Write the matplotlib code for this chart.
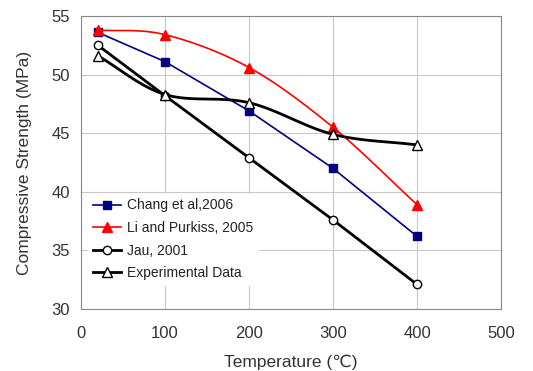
import numpy as np
import matplotlib
matplotlib.use('Agg')
import matplotlib.pyplot as plt

plt.rcParams['font.family'] = ['Liberation Sans', 'DejaVu Sans']

temps = [20, 100, 200, 300, 400]
chang = [53.6, 51.1, 46.9, 42.0, 36.2]
li_purkiss = [53.8, 53.4, 50.6, 45.5, 38.9]
jau = [52.5, 48.2, 42.9, 37.6, 32.1]
experimental = [51.6, 48.3, 47.6, 44.9, 44.0]


def smooth(x, y, n=30):
    # Catmull-Rom through the points, like Excel's "smoothed line"
    x = np.asarray(x, float)
    y = np.asarray(y, float)
    px = np.concatenate([[2 * x[0] - x[1]], x, [2 * x[-1] - x[-2]]])
    py = np.concatenate([[2 * y[0] - y[1]], y, [2 * y[-1] - y[-2]]])
    xs, ys = [], []
    for i in range(1, len(px) - 2):
        t = np.linspace(0, 1, n)
        for arr, out in ((px, xs), (py, ys)):
            p0, p1, p2, p3 = arr[i - 1], arr[i], arr[i + 1], arr[i + 2]
            out.extend(0.5 * ((2 * p1) + (-p0 + p2) * t
                              + (2 * p0 - 5 * p1 + 4 * p2 - p3) * t ** 2
                              + (-p0 + 3 * p1 - 3 * p2 + p3) * t ** 3))
    return xs, ys


fig = plt.figure(figsize=(5.33, 3.71), dpi=100)
ax = fig.add_axes([0.152, 0.167, 0.788, 0.79])

ax.plot(temps, chang, color='#000080', lw=1.2)
ax.plot(temps, chang, 's', color='#000080', ms=6)
sx, sy = smooth(temps, li_purkiss)
ax.plot(sx, sy, color='#ff0000', lw=1.2)
ax.plot(temps, li_purkiss, '^', color='#ff0000', ms=7)
ax.plot(temps, jau, color='black', lw=2, marker='o', ms=6, mfc='white', mec='black', mew=1)
sx, sy = smooth(temps, experimental)
ax.plot(sx, sy, color='black', lw=2)
ax.plot(temps, experimental, '^', ms=7, mfc='white', mec='black', mew=1)

# legend proxies
h1, = ax.plot([], [], color='#000080', lw=1.2, marker='s', ms=6)
h2, = ax.plot([], [], color='#ff0000', lw=1.2, marker='^', ms=7)
h3, = ax.plot([], [], color='black', lw=2, marker='o', ms=6, mfc='white', mew=1)
h4, = ax.plot([], [], color='black', lw=2, marker='^', ms=7, mfc='white', mew=1)
leg = ax.legend([h1, h2, h3, h4],
                ['Chang et al,2006', 'Li and Purkiss, 2005', 'Jau, 2001', 'Experimental Data'],
                loc='lower left', bbox_to_anchor=(0.0, 0.058), frameon=True, fancybox=False,
                edgecolor='white', framealpha=1, fontsize=10, handlelength=2.0,
                handletextpad=0.45, labelspacing=0.62, borderpad=0.35)
for t in leg.get_texts():
    t.set_color('#222222')

ax.set_xlim(0, 500)
ax.set_ylim(30, 55)
ax.set_xticks(range(0, 501, 100))
ax.set_yticks(range(30, 56, 5))
ax.grid(True, color='#c8c8c8', lw=0.8)
ax.set_axisbelow(True)
for s in ax.spines.values():
    s.set_color('#888888')
ax.tick_params(length=0, labelsize=12, colors='#333333')
ax.tick_params(axis='x', pad=12)
ax.tick_params(axis='y', pad=8)
ax.set_xlabel('Temperature (\u2103)', fontsize=12.5, color='#333333')
ax.set_ylabel('Compressive Strength (MPa)', fontsize=12.5, color='#333333')
ax.xaxis.set_label_coords(0.5, -0.155)
ax.yaxis.set_label_coords(-0.117, 0.5)

fig.savefig('out.png', dpi=100)
